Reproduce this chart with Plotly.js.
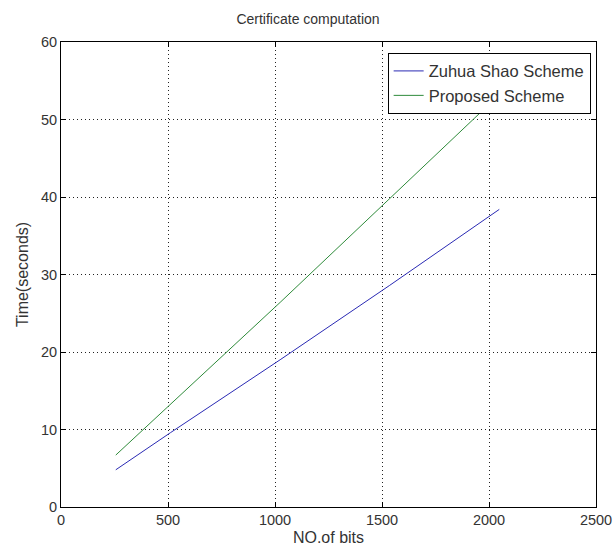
<!DOCTYPE html>
<html>
<head>
<meta charset="utf-8">
<script src="https://cdn.plot.ly/plotly-3.0.1.min.js"></script>
<style>html,body{margin:0;padding:0;background:#fff;}#chart{width:616px;height:554px;}</style>
</head>
<body>
<div id="chart"></div>
<script>
const bits = [256, 512, 1024, 1536, 2048];
const zuhuaShao = [4.8, 9.6, 19.0, 28.6, 38.4];
const proposed = [6.7, 13.3, 26.4, 39.8, 53.2];
const seriesNames = ['Zuhua Shao Scheme', 'Proposed Scheme'];
const xTicks = [0, 500, 1000, 1500, 2000, 2500];
const yTicks = [0, 10, 20, 30, 40, 50, 60];

const fontFam = 'Liberation Sans, Arial, sans-serif';
const traces = [
  {x: bits, y: zuhuaShao, name: seriesNames[0], type: 'scatter', mode: 'lines', line: {color: '#2a2ab4', width: 1}},
  {x: bits, y: proposed, name: seriesNames[1], type: 'scatter', mode: 'lines', line: {color: '#2e8b3a', width: 1}}
];
const axisCommon = {
  showline: true, linecolor: '#000', linewidth: 1, mirror: 'ticks',
  ticks: 'inside', ticklen: 5, tickcolor: '#000',
  showgrid: true, gridcolor: '#222', griddash: '1px,3px', gridwidth: 1,
  zeroline: false,
  tickfont: {family: fontFam, size: 14.5, color: '#333'}
};
const layout = {
  width: 616, height: 554,
  margin: {l: 61, r: 20, t: 42, b: 47},
  paper_bgcolor: '#fff', plot_bgcolor: '#fff',
  title: {text: 'Certificate computation', x: 0.5, xanchor: 'center', y: 0.975, yanchor: 'top',
          font: {family: fontFam, size: 14, color: '#333'}},
  xaxis: Object.assign({}, axisCommon, {range: [0, 2500], tickvals: xTicks, ticktext: xTicks.map(String),
    title: {text: 'NO.of bits', standoff: 4, font: {family: fontFam, size: 16, color: '#333'}}}),
  yaxis: Object.assign({}, axisCommon, {range: [0, 60], tickvals: yTicks, ticktext: yTicks.map(String),
    title: {text: 'Time(seconds)', standoff: 8, font: {family: fontFam, size: 16, color: '#333'}}}),
  legend: {x: 0.99, xanchor: 'right', y: 0.977, yanchor: 'top', bgcolor: '#fff', bordercolor: '#000', borderwidth: 1,
    font: {family: fontFam, size: 16.5, color: '#333'}, tracegroupgap: 0},
  showlegend: true
};
Plotly.newPlot('chart', traces, layout, {displayModeBar: false, staticPlot: true});
</script>
</body>
</html>
